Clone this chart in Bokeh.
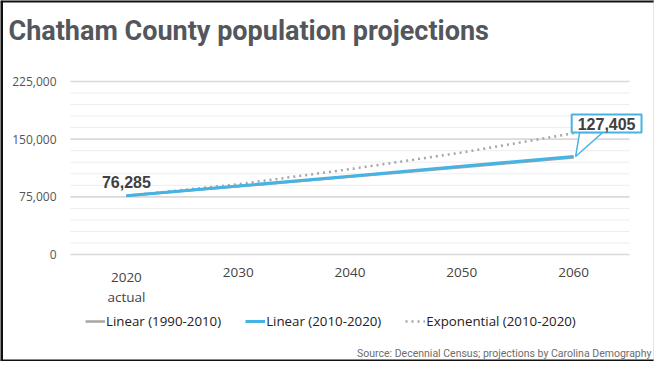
from bokeh.plotting import figure
from bokeh.models import Range1d, Label, Legend, LegendItem, Span, ColumnDataSource
from bokeh.core.properties import value
from bokeh.embed import file_html
from bokeh.resources import INLINE

# ---- data ----
years = [2020, 2030, 2040, 2050, 2060]
year_labels = ["2020\nactual", "2030", "2040", "2050", "2060"]
linear_1990_2010 = [76285, 88700, 101100, 113600, 126100]
linear_2010_2020 = [76285, 89065, 101845, 114625, 127405]
exponential_2010_2020 = [76285, 91400, 111000, 132600, 157700]
y_ticks = [0, 75000, 150000, 225000]
y_minor_step = 15000
series_names = ["Linear (1990-2010)", "Linear (2010-2020)", "Exponential (2010-2020)"]

title_text = "Chatham County population projections"
source_text = "Source: Decennial Census; projections by Carolina Demography"

# ---- layout (canvas pixels) ----
W, H = 654, 361
X0, X1 = 2015, 2065          # plotting band in data units
Y0, Y1 = 0, 225000
PL, PR = 70, 629             # plotting band in canvas px
PT, PB = 81, 254
px_x = (X1 - X0) / (PR - PL)
px_y = (Y1 - Y0) / (PB - PT)

p = figure(width=W, height=H, output_backend="svg", toolbar_location=None,
           x_range=Range1d(X0 - PL * px_x, X1 + (W - PR) * px_x),
           y_range=Range1d(Y0 - (H - PB) * px_y, Y1 + PT * px_y),
           x_axis_location=None, y_axis_location=None,
           min_border=0, background_fill_color="white",
           border_fill_color="white")
p.outline_line_color = None
p.grid.visible = False

xr, yr = p.x_range, p.y_range
# page frame
p.add_layout(Span(location=yr.end, dimension="width", line_color="#111111", line_width=4))
p.add_layout(Span(location=yr.start, dimension="width", line_color="#111111", line_width=4))
p.add_layout(Span(location=xr.start, dimension="height", line_color="#111111", line_width=5))
p.add_layout(Span(location=xr.end, dimension="height", line_color="#cccccc", line_width=2))

# gridlines
minor = [v for v in range(Y0, Y1 + 1, y_minor_step) if v not in y_ticks]
p.segment(x0=[X0] * len(minor), x1=[X1] * len(minor), y0=minor, y1=minor,
          line_color="#ededed", line_width=1)
p.segment(x0=[X0] * len(y_ticks), x1=[X1] * len(y_ticks), y0=y_ticks, y1=y_ticks,
          line_color="#d9d9d9", line_width=1.6)

# tick labels
p.text(x=[X0] * len(y_ticks), y=y_ticks, text=[f"{v:,}" for v in y_ticks],
       x_offset=-14, text_align="right", text_baseline="middle",
       text_font=value("Open Sans"), text_font_size="12px", text_color="#555555")
p.text(x=years, y=[Y0 - 13 * px_y] * len(years), text=year_labels,
       text_align="center", text_baseline="top", text_line_height=1.15,
       text_font=value("Open Sans"), text_font_size="13.5px", text_color="#444444")

# series
src = ColumnDataSource(dict(x=years, a=linear_1990_2010, b=linear_2010_2020,
                            c=exponential_2010_2020))
r_a = p.line("x", "a", source=src, line_color="#a6a6a6", line_width=2.5)
r_c = p.line("x", "c", source=src, line_color="#a6a6a6", line_width=2.5,
             line_dash="2 4")
r_b = p.line("x", "b", source=src, line_color="#45b3e3", line_width=3)

legend = Legend(items=[LegendItem(label=series_names[0], renderers=[r_a]),
                       LegendItem(label=series_names[1], renderers=[r_b]),
                       LegendItem(label=series_names[2], renderers=[r_c])],
                orientation="horizontal", location=(85, 31),
                label_text_font="Open Sans", label_text_font_size="13.3px",
                label_text_color="#222222", glyph_width=20, glyph_height=16,
                label_standoff=1, spacing=24, padding=0, margin=0,
                border_line_color=None, background_fill_alpha=0)
p.add_layout(legend, "center")

# title
p.add_layout(Label(x=xr.start, y=yr.end, x_offset=8, y_offset=-30, text=title_text,
                   text_font="Roboto", text_font_style="bold",
                   text_font_size="27px", text_color="#53575c",
                   text_baseline="alphabetic"))

# first value label
p.add_layout(Label(x=years[0], y=linear_2010_2020[0], y_offset=14,
                   text=f"{linear_2010_2020[0]:,}", text_align="center",
                   text_baseline="middle", text_font="Liberation Sans",
                   text_font_style="bold", text_font_size="16px",
                   text_color="#404040"))

# callout for last value
lx, ly = years[-1], linear_2010_2020[-1]
p.patch([lx + 6 * px_x, lx + 29 * px_x, lx + 2 * px_x],
        [ly + 24 * px_y, ly + 24 * px_y, ly],
        fill_color="white", line_color="#45b3e3", line_width=1.5)
p.add_layout(Label(x=lx, y=ly, x_offset=33, y_offset=33,
                   text=f"{ly:,}", text_align="center", text_baseline="middle",
                   text_font="Liberation Sans", text_font_style="bold",
                   text_font_size="16px", text_color="#404040",
                   background_fill_color="white", border_line_color="#45b3e3",
                   border_line_width=2, padding=(6, 3)))

# source
p.add_layout(Label(x=xr.end, y=yr.start, x_offset=-3, y_offset=8,
                   text=source_text, text_align="right",
                   text_baseline="alphabetic",
                   text_font="Roboto", text_font_size="10.5px",
                   text_color="#6d6d6d"))

open("out.html", "w").write(file_html(p, INLINE))
